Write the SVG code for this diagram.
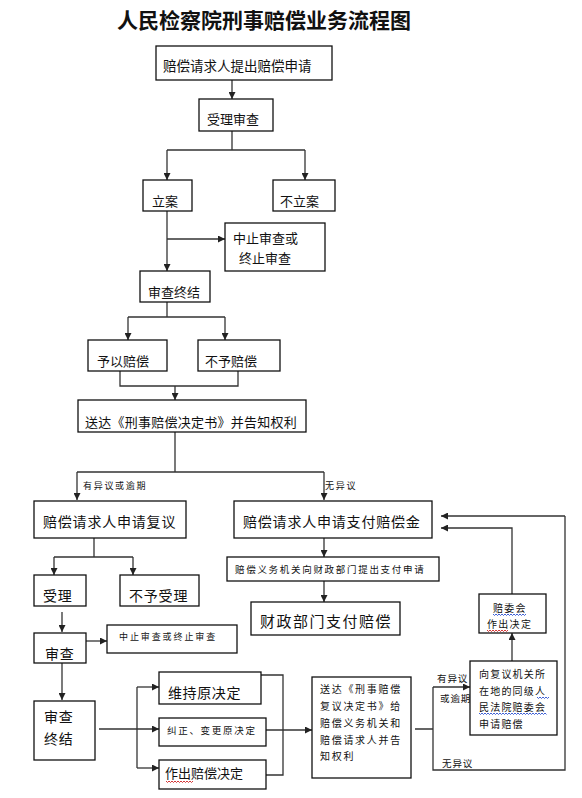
<svg xmlns="http://www.w3.org/2000/svg" width="582" height="798" viewBox="0 0 582 798">
<defs>
<marker id="arr" markerUnits="userSpaceOnUse" markerWidth="8" markerHeight="7" refX="7" refY="3.5" orient="auto">
<path d="M0,0 L7,3.5 L0,7 z" fill="#222"/>
</marker>
<style>
text{font-family:"Noto Sans CJK SC","Noto Sans CJK JP",sans-serif;fill:#111}
.title{font-size:21px;font-weight:bold}
.box{fill:#fff;stroke:#111;stroke-width:1.3}
.ln{fill:none;stroke:#333;stroke-width:1.3}
.ar{fill:none;stroke:#333;stroke-width:1.3;marker-end:url(#arr)}
.t13{font-size:13px}
.t14{font-size:14px;letter-spacing:0.8px}
.sm{font-size:9.5px;letter-spacing:1.7px}
.lab{font-size:9px;letter-spacing:1.7px}
.t10{font-size:10px;letter-spacing:1.4px}
.wb{fill:none;stroke:#2a4fd0;stroke-width:0.9}
.wr{fill:none;stroke:#d02020;stroke-width:0.9}
</style>
</defs>
<rect width="582" height="798" fill="#fff"/>
<text class="title" x="117" y="28">人民检察院刑事赔偿业务流程图</text>

<g id="connectors">
<path class="ar" d="M232,80 V99"/>
<path class="ln" d="M232,131 V150 M167,150 H305"/>
<path class="ar" d="M167,150 V180"/>
<path class="ar" d="M305,150 V180"/>
<path class="ar" d="M167,211 V271"/>
<path class="ar" d="M167,239 H225"/>
<path class="ln" d="M167,302 V317 M128,317 H225"/>
<path class="ar" d="M128,317 V340"/>
<path class="ar" d="M225,317 V340"/>
<path class="ln" d="M120,371 V386 H238 V371"/>
<path class="ar" d="M175,386 V400"/>
<path class="ln" d="M175,432 V472 M77,472 H324"/>
<path class="ar" d="M77,472 V500"/>
<path class="ar" d="M324,472 V500"/>
<text class="lab" x="83" y="489">有异议或逾期</text>
<text class="lab" x="325" y="489">无异议</text>
<path class="ln" d="M94,538 V557 M54,557 H133"/>
<path class="ar" d="M54,557 V575"/>
<path class="ar" d="M133,557 V575"/>
<path class="ar" d="M62,612 V632"/>
<path class="ar" d="M86,641 H107"/>
<path class="ar" d="M62,663 V700"/>
<path class="ar" d="M324,538 V557"/>
<path class="ar" d="M324,581 V602"/>
<path class="ar" d="M99,729 H159"/>
<path class="ln" d="M137,687 V768"/>
<path class="ar" d="M137,687 H159"/>
<path class="ar" d="M137,768 H159"/>
<path class="ln" d="M261,675 H283 V775 H266"/>
<path class="ar" d="M266,730 H312"/>
<path class="ln" d="M415,729 H433 M433,687 V770 H565 V516"/>
<path class="ar" d="M433,687 H470"/>
<path class="ar" d="M565,516 H441"/>
<path class="ar" d="M512,661 V633"/>
<path class="ar" d="M512,594 V528 H441"/>
<text class="lab" x="437" y="682" style="letter-spacing:0.9px;font-size:9.5px">有异议</text>
<text class="lab" x="440" y="702" style="letter-spacing:0.9px;font-size:9.5px">或逾期</text>
<text class="lab" x="442" y="767" style="letter-spacing:0.9px;font-size:9.5px">无异议</text>
</g>

<g id="n1"><rect class="box" x="156" y="46" width="176" height="34"/><text x="163" y="71" style="font-size:13.5px">赔偿请求人提出赔偿申请</text></g>
<g id="n2"><rect class="box" x="199" y="99" width="74" height="32"/><text class="t13" x="207" y="124">受理审查</text></g>
<g id="n3"><rect class="box" x="143" y="180" width="49" height="31"/><text class="t13" x="152" y="206">立案</text></g>
<g id="n4"><rect class="box" x="273" y="180" width="62" height="31"/><text class="t13" x="280" y="206">不立案</text></g>
<g id="n5"><rect class="box" x="225" y="223" width="100" height="48"/><text class="t13" x="233" y="243">中止审查或</text><text class="t13" x="239" y="263">终止审查</text></g>
<g id="n6"><rect class="box" x="140" y="271" width="70" height="31"/><text class="t13" x="148" y="297">审查终结</text></g>
<g id="n7"><rect class="box" x="88" y="340" width="79" height="31"/><text class="t13" x="97" y="366">予以赔偿</text></g>
<g id="n8"><rect class="box" x="198" y="340" width="82" height="31"/><text class="t13" x="205" y="366">不予赔偿</text></g>
<g id="n9"><rect class="box" x="78" y="400" width="228" height="32"/><text x="85" y="427" style="font-size:13px;letter-spacing:0.25px">送达《刑事赔偿决定书》并告知权利</text></g>
<g id="n10"><rect class="box" x="34" y="501" width="152" height="37"/><text class="t14" x="43" y="527">赔偿请求人申请复议</text></g>
<g id="n11"><rect class="box" x="234" y="501" width="198" height="37"/><text class="t14" x="243" y="527">赔偿请求人申请支付赔偿金</text></g>
<g id="n12"><rect class="box" x="227" y="557" width="212" height="24"/><text class="sm" x="235" y="573">赔偿义务机关向财政部门提出支付申请</text></g>
<g id="n13"><rect class="box" x="251" y="602" width="149" height="33"/><text x="260" y="627" style="font-size:15px;letter-spacing:1.5px">财政部门支付赔偿</text></g>
<g id="n14"><rect class="box" x="34" y="575" width="52" height="31"/><text class="t14" x="43" y="601">受理</text></g>
<g id="n15"><rect class="box" x="120" y="575" width="79" height="31"/><text class="t14" x="129" y="601">不予受理</text></g>
<g id="n16"><rect class="box" x="34" y="633" width="52" height="30"/><text class="t14" x="45" y="659">审查</text></g>
<g id="n17"><rect class="box" x="107" y="625" width="130" height="28"/><text class="lab" x="119" y="640" style="letter-spacing:1.9px">中止审查或终止审查</text></g>
<g id="n18"><rect class="box" x="34" y="701" width="61" height="59"/><text class="t14" x="44" y="722">审查</text><text class="t14" x="44" y="744">终结</text></g>
<g id="n19"><rect class="box" x="159" y="672" width="102" height="32"/><text class="t14" x="168" y="698" style="letter-spacing:0.6px">维持原决定</text></g>
<g id="n20"><rect class="box" x="159" y="718" width="107" height="28"/><text class="sm" x="167" y="734">纠正、变更原决定</text></g>
<g id="n21"><rect class="box" x="159" y="760" width="107" height="29"/><text class="t13" x="165" y="778">作出赔偿决定</text><path class="wr" d="M166,781 l1.5,1.5 1.5,-1.5 1.5,1.5 1.5,-1.5 1.5,1.5 1.5,-1.5 1.5,1.5 1.5,-1.5 1.5,1.5 1.5,-1.5 1.5,1.5 1.5,-1.5 1.5,1.5 1.5,-1.5 1.5,1.5 1.5,-1.5 1.5,1.5 1.5,-1.5"/></g>
<g id="n22"><rect class="box" x="312" y="677" width="99" height="101"/>
<text class="t10" x="320" y="693" style="letter-spacing:1.7px">送达《刑事赔偿</text>
<text class="t10" x="320" y="710" style="letter-spacing:1.7px">复议决定书》给</text>
<text class="t10" x="320" y="727" style="letter-spacing:1.7px">赔偿义务机关和</text>
<text class="t10" x="320" y="744" style="letter-spacing:1.7px">赔偿请求人并告</text>
<text class="t10" x="320" y="760" style="letter-spacing:1.7px">知权利</text></g>
<g id="n23"><rect class="box" x="470" y="661" width="87" height="74"/>
<text class="t10" x="479" y="678" style="letter-spacing:1.2px">向复议机关所</text>
<text class="t10" x="479" y="695" style="letter-spacing:1.2px">在地的同级人</text>
<text class="t10" x="479" y="711" style="letter-spacing:1.2px">民法院赔委会</text>
<text class="t10" x="479" y="728" style="letter-spacing:1.2px">申请赔偿</text>
<path class="wb" d="M537,697 l1.5,1.5 1.5,-1.5 1.5,1.5 1.5,-1.5 1.5,1.5 1.5,-1.5 1.5,1.5 1.5,-1.5"/>
<path class="wb" d="M479,713 l1.5,1.5 1.5,-1.5 1.5,1.5 1.5,-1.5 1.5,1.5 1.5,-1.5 1.5,1.5 1.5,-1.5 1.5,1.5 1.5,-1.5 1.5,1.5 1.5,-1.5 1.5,1.5 1.5,-1.5 1.5,1.5 1.5,-1.5 1.5,1.5 1.5,-1.5 1.5,1.5 1.5,-1.5 1.5,1.5 1.5,-1.5 1.5,1.5 1.5,-1.5 1.5,1.5 1.5,-1.5 1.5,1.5 1.5,-1.5 1.5,1.5 1.5,-1.5 1.5,1.5 1.5,-1.5 1.5,1.5 1.5,-1.5 1.5,1.5 1.5,-1.5 1.5,1.5 1.5,-1.5 1.5,1.5 1.5,-1.5 1.5,1.5 1.5,-1.5 1.5,1.5 1.5,-1.5 1.5,1.5"/></g>
<g id="n24"><rect class="box" x="479" y="594" width="67" height="39"/>
<text class="t10" x="493" y="612" style="letter-spacing:1.3px">赔委会</text>
<text class="t10" x="487" y="628" style="letter-spacing:1.3px">作出决定</text>
<path class="wb" d="M493,614 l1.5,1.5 1.5,-1.5 1.5,1.5 1.5,-1.5 1.5,1.5 1.5,-1.5 1.5,1.5 1.5,-1.5 1.5,1.5 1.5,-1.5 1.5,1.5 1.5,-1.5 1.5,1.5 1.5,-1.5 1.5,1.5 1.5,-1.5 1.5,1.5 1.5,-1.5 1.5,1.5 1.5,-1.5 1.5,1.5 1.5,-1.5"/>
<path class="wr" d="M487,630 l1.5,1.5 1.5,-1.5 1.5,1.5 1.5,-1.5 1.5,1.5 1.5,-1.5 1.5,1.5 1.5,-1.5 1.5,1.5 1.5,-1.5 1.5,1.5 1.5,-1.5 1.5,1.5 1.5,-1.5"/></g>
</svg>
